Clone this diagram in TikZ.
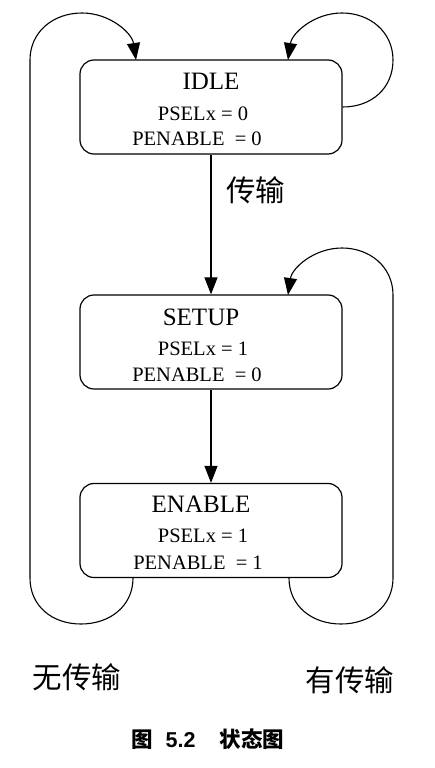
\documentclass[tikz,border=0pt]{standalone}
\usepackage{fontspec}
\setmainfont{Liberation Serif}
\newfontfamily\cjk{Noto Sans CJK SC}
\newfontfamily\capsans{Liberation Sans}
\usetikzlibrary{arrows.meta}
\begin{document}
\begin{tikzpicture}[x=1pt,y=-1pt,
  state/.style={draw, line width=1.2pt, rounded corners=14pt, minimum width=262pt, minimum height=94pt, inner sep=0pt},
  title/.style={font=\fontsize{25}{28}\selectfont, inner sep=0pt},
  sig/.style={font=\fontsize{20.5}{24}\selectfont, inner sep=0pt},
  cn/.style={font=\cjk\fontsize{29.5}{32}\selectfont, inner sep=0pt},
  wire/.style={line width=1.1pt},
  arr/.style={wire, -{Triangle[length=17pt,width=13pt]}}]
\useasboundingbox (0,0) rectangle (435,768);
\fill[white] (0,0) rectangle (435,768);

% states
\node[state] (idle) at (211,107) {};
\node[state] (setup) at (211,342) {};
\node[state] (enable) at (211,530.5) {};

% texts
\node[title] (idlet) at (211,81) {IDLE};
\node[sig] (idles) at (203,114) {PSELx = 0};
\node[sig] (idlee) at (197,139) {PENABLE \ = 0};

\node[title] (setupt) at (201,317) {SETUP};
\node[sig] (setups) at (203,349) {PSELx = 1};
\node[sig] (setupe) at (197,375) {PENABLE \ = 0};

\node[title] (enablet) at (201,504) {ENABLE};
\node[sig] (enables) at (203,536) {PSELx = 1};
\node[sig] (enablee) at (198,563) {PENABLE \ = 1};

% labels
\node[cn, anchor=west] (lt) at (226,190) {传输};
\node[cn] (lnot) at (77,677) {无传输};
\node[cn] (lyes) at (350,680) {有传输};

% caption
\node[anchor=west, inner sep=0pt, font=\capsans\bfseries\fontsize{21.5}{24}\selectfont] (cap) at (131,739)
  {{\cjk\bfseries 图}\hspace{13pt}5.2\hspace{24pt}{\cjk\bfseries 状态图}};

% connectors
\draw[arr] (idle) -- (setup);
\draw[arr] (setup) -- (enable);

\coordinate (idleloopin) at (288,60);
\coordinate (setuploopin) at (288,295);
\coordinate (idleleftin) at (136,60);
\coordinate (enL) at (133,578);
\coordinate (enR) at (289,578);

% IDLE self loop
\draw[arr] (idle.east) .. controls (372,107) and (393,88) .. (393,60)
  .. controls (393,32) and (370,13) .. (342,13)
  .. controls (314,13) and (292,33) .. (idleloopin);

% ENABLE -> IDLE (no transfer)
\draw[arr] (enL) .. controls (133,606) and (110,624) .. (81,624)
  .. controls (52,624) and (30,606) .. (30,578) -- (30,60)
  .. controls (30,32) and (53,13) .. (82,13)
  .. controls (110,13) and (132,33) .. (idleleftin);

% ENABLE -> SETUP (transfer)
\draw[arr] (enR) .. controls (289,606) and (312,624) .. (341,624)
  .. controls (370,624) and (393,606) .. (393,578) -- (393,295)
  .. controls (393,267) and (370,248) .. (342,248)
  .. controls (314,248) and (292,268) .. (setuploopin);
\end{tikzpicture}
\end{document}
